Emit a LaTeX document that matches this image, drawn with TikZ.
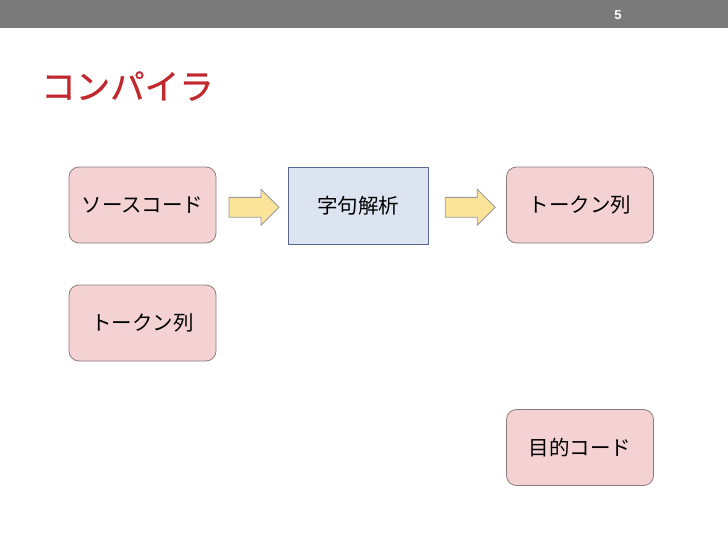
\documentclass[tikz,border=0pt]{standalone}
\usepackage{fontspec}
\setmainfont{Liberation Sans}
\newfontfamily\jpfont{Noto Sans CJK JP}
\newfontfamily\jptitle[FakeBold=0.8]{Noto Sans CJK JP}
\usetikzlibrary{shapes.arrows,calc}

\definecolor{barGray}{HTML}{7A7A7A}
\definecolor{titleRed}{HTML}{C0282D}
\definecolor{pinkFill}{HTML}{F4D2D4}
\definecolor{pinkLine}{HTML}{8C7C7C}
\definecolor{blueFill}{HTML}{DCE3F1}
\definecolor{blueLine}{HTML}{5A6890}
\definecolor{arrowFill}{HTML}{FCE39A}
\definecolor{arrowLine}{HTML}{9A9A9A}

\tikzset{
  databox/.style={draw=pinkLine, fill=pinkFill, rounded corners=10pt,
    line width=0.8pt, minimum width=147pt, minimum height=76pt, inner sep=0pt,
    font=\jpfont\fontsize{20.5}{24}\selectfont},
  procbox/.style={draw=blueLine, fill=blueFill, line width=0.8pt,
    minimum width=140pt, minimum height=77pt, inner sep=0pt,
    font=\jpfont\fontsize{20.5}{24}\selectfont},
  blockarrow/.style={single arrow, draw=arrowLine, fill=arrowFill, line width=0.8pt,
    minimum height=50pt, single arrow head extend=8pt,
    single arrow head indent=0pt, inner xsep=0pt, inner ysep=9.5pt}
}

\begin{document}
\begin{tikzpicture}[x=1pt,y=-1pt]
  \useasboundingbox (0,0) rectangle (728,546);
  \fill[barGray] (0,0) rectangle (728,28);
  \node[text=white, font=\bfseries\fontsize{13}{15}\selectfont] (pagenum) at (618,15) {5};
  \node[anchor=west, text=titleRed, inner sep=0pt, font=\jptitle\fontsize{34.5}{40}\selectfont] (title) at (41,86) {コンパイラ};

  \node[databox] (src) at (142.5,205) {ソースコード};
  \node[procbox] (lex) at (358,205.5) {字句解析};
  \node[databox] (tok) at (580,205) {トークン列};
  \node[databox] (tok2) at (142.5,323) {トークン列};
  \node[databox] (obj) at (580,447.5) {目的コード};

  \node[blockarrow] (a1) at ($(src.east)!0.5!(lex.west)+(-3,2)$) {};
  \node[blockarrow] (a2) at ($(lex.east)!0.5!(tok.west)+(-2,2)$) {};
\end{tikzpicture}
\end{document}
